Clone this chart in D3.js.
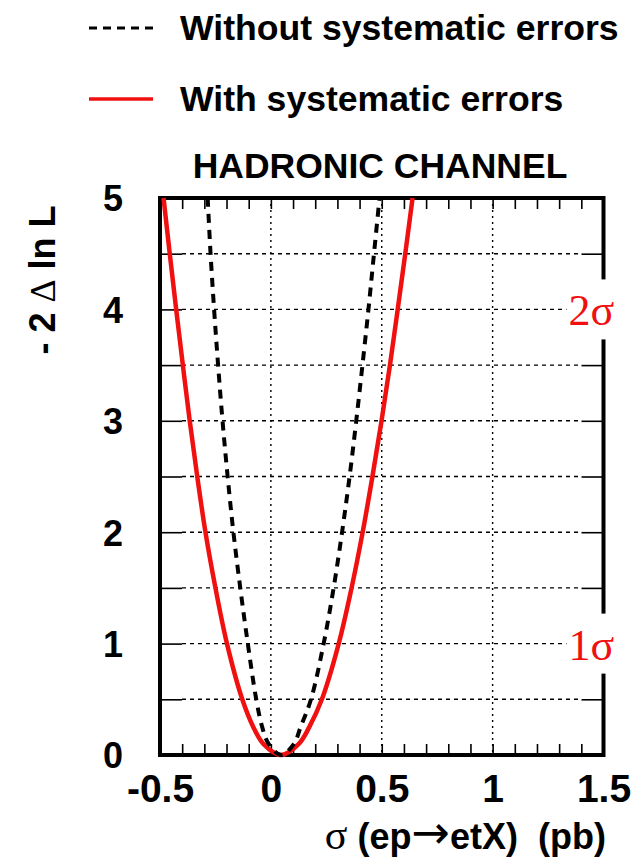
<!DOCTYPE html>
<html>
<head>
<meta charset="utf-8">
<script src="https://cdn.jsdelivr.net/npm/d3@7"></script>
<style>
  html, body { margin: 0; padding: 0; background: #fff; }
  svg { display: block; }
</style>
</head>
<body>
<div id="chart"></div>
<script>
// Likelihood scan, hadronic channel: -2 Δ ln L versus σ(ep→etX)
const curveY = [5, 4.5, 4, 3.5, 3, 2.5, 2, 1.5, 1, 0.5, 0.25, 0.1, 0,
                0.1, 0.25, 0.5, 1, 1.5, 2, 2.5, 3, 3.5, 4, 4.5, 5];
const withSystX = [-0.484, -0.456, -0.427, -0.397, -0.366, -0.332, -0.295, -0.250, -0.198, -0.129, -0.079, -0.034, 0.045,
                   0.126, 0.173, 0.230, 0.306, 0.364, 0.414, 0.458, 0.499, 0.537, 0.572, 0.606, 0.639];
const noSystX = [-0.285, -0.272, -0.256, -0.238, -0.218, -0.195, -0.169, -0.138, -0.104, -0.066, -0.039, -0.010, 0.047,
                 0.104, 0.134, 0.181, 0.238, 0.283, 0.321, 0.355, 0.385, 0.413, 0.440, 0.465, 0.490];

const xTickValues = [-0.5, 0, 0.5, 1, 1.5];
const xTickLabels = ["-0.5", "0", "0.5", "1", "1.5"];
const yTickValues = [0, 1, 2, 3, 4, 5];
const yTickLabels = ["0", "1", "2", "3", "4", "5"];
const xGridValues = [0, 0.5, 1];
const sigmaLevels = [4, 1];
const sigmaLabels = ["2σ", "1σ"];
const legendLabels = ["Without systematic errors", "With systematic errors"];

const W = 644, H = 858;
const SANS = "'Liberation Sans', Arial, Helvetica, sans-serif";
const SERIF = "'Liberation Serif', 'Times New Roman', serif";
const RED = "#f01010";

const svg = d3.select("#chart").append("svg")
  .attr("width", W).attr("height", H)
  .style("background", "#fff");

const x = d3.scaleLinear().domain([-0.5, 1.5]).range([160, 603.5]);
const y = d3.scaleLinear().domain([0, 5]).range([755, 198]);
const [x0, x1] = x.range();
const [yb, yt] = y.range();

// Horizontal dotted grid every 0.5, between the inner tick marks
const yHalf = d3.range(0.5, 5, 0.5);
svg.append("g").selectAll("line").data(yHalf).join("line")
  .attr("x1", x0 + 22).attr("x2", x1 - 22)
  .attr("y1", d => y(d)).attr("y2", d => y(d))
  .attr("stroke", "#000").attr("stroke-width", 1.4)
  .attr("stroke-dasharray", "4,4");

// Vertical dotted grid
svg.append("g").selectAll("line").data(xGridValues).join("line")
  .attr("x1", d => x(d)).attr("x2", d => x(d))
  .attr("y1", yt).attr("y2", yb)
  .attr("stroke", "#000").attr("stroke-width", 1.4)
  .attr("stroke-dasharray", "2,4");

// Inner tick marks on all four sides
const xMinor = x.ticks(20);
const tickStyle = g => {
  g.select(".domain").remove();
  g.selectAll(".tick line").attr("stroke", "#000").attr("stroke-width", 1.6);
  g.selectAll(".tick text").remove();
};
svg.append("g").attr("transform", `translate(0,${yb})`)
  .call(d3.axisBottom(x).tickValues(xMinor).tickSize(-11)).call(tickStyle);
svg.append("g").attr("transform", `translate(0,${yt})`)
  .call(d3.axisTop(x).tickValues(xMinor).tickSize(-11)).call(tickStyle);
svg.append("g").attr("transform", `translate(${x0},0)`)
  .call(d3.axisLeft(y).tickValues(yHalf).tickSize(-22)).call(tickStyle);
svg.append("g").attr("transform", `translate(${x1},0)`)
  .call(d3.axisRight(y).tickValues(yHalf).tickSize(-22)).call(tickStyle);

// Frame
svg.append("rect")
  .attr("x", x0).attr("y", yt).attr("width", x1 - x0).attr("height", yb - yt)
  .attr("fill", "none").attr("stroke", "#000").attr("stroke-width", 4);

// Curves
const line = d3.line()
  .x(d => x(d[0])).y(d => y(d[1]))
  .curve(d3.curveCatmullRom.alpha(0.5));

svg.append("path")
  .datum(withSystX.map((v, i) => [v, curveY[i]]))
  .attr("d", line)
  .attr("fill", "none").attr("stroke", RED).attr("stroke-width", 4.5)
  .attr("stroke-linejoin", "round");

svg.append("path")
  .datum(noSystX.map((v, i) => [v, curveY[i]]))
  .attr("d", line)
  .attr("fill", "none").attr("stroke", "#000").attr("stroke-width", 4)
  .attr("stroke-dasharray", "9,7");

// Sigma labels over the right edge of the frame
const sig = svg.append("g").selectAll("g").data(sigmaLevels).join("g");
sig.append("rect")
  .attr("x", x1 - 37).attr("y", d => y(d) - 30)
  .attr("width", 60).attr("height", 60)
  .attr("fill", "#fff");
sig.append("text")
  .attr("x", x1 - 35).attr("y", d => y(d) + 16)
  .attr("font-family", SERIF).attr("font-size", 44)
  .attr("fill", RED)
  .text((d, i) => sigmaLabels[i]);

// Axis labels
const xAxis = svg.append("g").attr("transform", `translate(0,${yb})`)
  .call(d3.axisBottom(x).tickValues(xTickValues).tickSize(0)
    .tickFormat((d, i) => xTickLabels[i]));
xAxis.select(".domain").remove();
xAxis.selectAll(".tick text")
  .attr("y", 47).attr("dy", 0)
  .attr("font-family", SANS).attr("font-weight", "bold")
  .attr("font-size", 39).attr("fill", "#000");

const yAxis = svg.append("g").attr("transform", `translate(${x0},0)`)
  .call(d3.axisLeft(y).tickValues(yTickValues).tickSize(0)
    .tickFormat((d, i) => yTickLabels[i]));
yAxis.select(".domain").remove();
yAxis.selectAll(".tick text")
  .attr("x", -37).attr("dy", "0.36em")
  .attr("font-family", SANS).attr("font-weight", "bold")
  .attr("font-size", 36).attr("fill", "#000");

// Title
svg.append("text")
  .attr("x", 380).attr("y", 178)
  .attr("text-anchor", "middle")
  .attr("font-family", SANS).attr("font-weight", "bold").attr("font-size", 35.5)
  .text("HADRONIC CHANNEL");

// y-axis title
const yTitle = svg.append("text")
  .attr("transform", "translate(55,280) rotate(-90)")
  .attr("text-anchor", "middle")
  .attr("font-family", SANS).attr("font-weight", "bold").attr("font-size", 36)
  .style("white-space", "pre");
yTitle.append("tspan").text("- 2 ");
yTitle.append("tspan").attr("font-family", SERIF).attr("font-weight", "normal").text("Δ");
yTitle.append("tspan").text(" ln L");

// x-axis title
const xTitle = svg.append("text")
  .attr("x", 606).attr("y", 849)
  .attr("text-anchor", "end")
  .attr("font-family", SANS).attr("font-weight", "bold").attr("font-size", 36)
  .style("white-space", "pre");
xTitle.append("tspan").attr("font-family", SERIF).attr("font-weight", "normal").attr("font-size", 42).text("σ");
xTitle.append("tspan").text(" (ep");
xTitle.append("tspan").attr("font-family", "'DejaVu Sans', sans-serif").attr("font-weight", "normal")
  .attr("font-size", 46).attr("dy", -1).text("→");
xTitle.append("tspan").attr("dy", 1).text("etX)  (pb)");

// Legend
const legend = svg.append("g");
const legendY = [28, 99];
legend.append("line")
  .attr("x1", 89).attr("x2", 153).attr("y1", legendY[0]).attr("y2", legendY[0])
  .attr("stroke", "#000").attr("stroke-width", 3).attr("stroke-dasharray", "8,6");
legend.append("line")
  .attr("x1", 89).attr("x2", 153).attr("y1", legendY[1]).attr("y2", legendY[1])
  .attr("stroke", RED).attr("stroke-width", 3.5);
legend.selectAll("text").data(legendLabels).join("text")
  .attr("x", 180).attr("y", (d, i) => legendY[i] + 12)
  .attr("font-family", SANS).attr("font-weight", "bold").attr("font-size", 35.6)
  .text(d => d);
</script>
</body>
</html>
